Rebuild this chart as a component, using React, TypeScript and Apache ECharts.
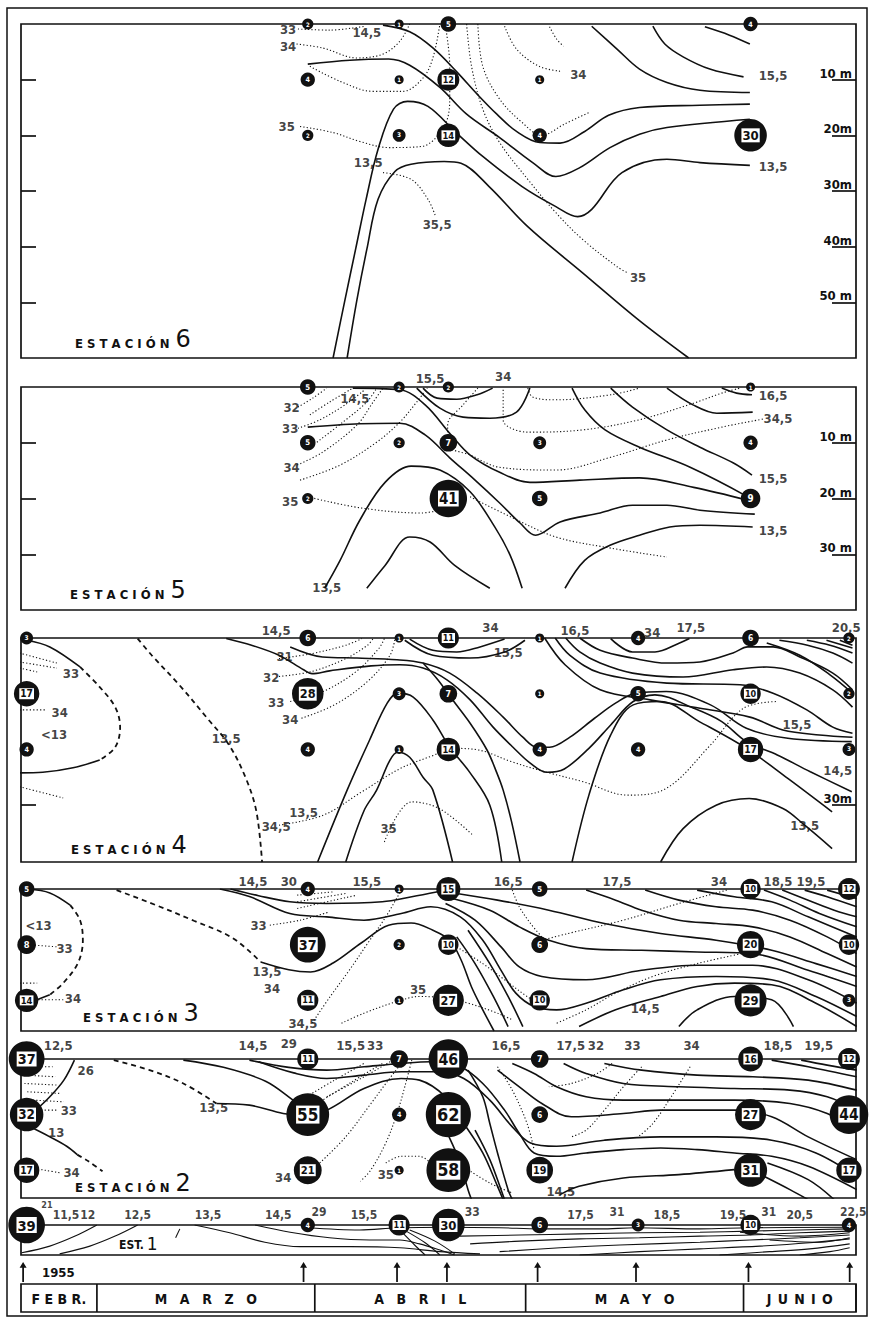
import React, { useEffect, useRef } from 'react';
import * as echarts from 'echarts';

const FONT = "'DejaVu Sans Condensed','Liberation Sans Narrow','DejaVu Sans',sans-serif";
const INK = '#111111';

// ---------- time axis: days counted from 1 March 1955 ----------
const dayMin = -10.8;
const dayMax = 108;
const sampleDays = [-10, 30, 43, 50, 63, 77, 93, 107];
const arrowDays = [-10.5, 29.4, 42.7, 49.8, 62.7, 76.7, 92.7, 107.1];
const sampleDepths = [0, 10, 20];
const monthNames = ['F E B R.', 'M\u2003A\u2003R\u2003Z\u2003O', 'A\u2003B\u2003R\u2003I\u2003L', 'M\u2003A\u2003Y\u2003O', 'J\u2002U\u2002N\u2002I\u2002O'];
const monthStart = [-10.8, 0, 31, 61, 92];
const monthEnd = [0, 31, 61, 92, 108];
const yearLabel = '1955';

// ---------- counts in circles (rows: 0, 10, 20 m; columns: sampleDays) ----------
const st6Counts = [
  [null, 2, 1, 5, null, null, 4, null],
  [null, 4, 1, 12, 1, null, null, null],
  [null, 2, 3, 14, 4, null, 30, null],
];
const st5Counts = [
  [null, 5, 2, 2, null, null, 1, null],
  [null, 5, 2, 7, 3, null, 4, null],
  [null, 2, null, 41, 5, null, 9, null],
];
const st4Counts = [
  [3, 6, 1, 11, 1, 4, 6, 2],
  [17, 28, 3, 7, 1, 5, 10, 2],
  [4, 4, 1, 14, 4, 4, 17, 3],
];
const st3Counts = [
  [5, 4, 1, 15, 5, null, 10, 12],
  [8, 37, 2, 10, 6, null, 20, 10],
  [14, 11, 1, 27, 10, null, 29, 3],
];
const st2Counts = [
  [37, 11, 7, 46, 7, null, 16, 12],
  [32, 55, 4, 62, 6, null, 27, 44],
  [17, 21, 1, 58, 19, null, 31, 17],
];
const st1Counts = [[39, 4, 11, 30, 6, 3, 10, 4]];

// ---------- Estación 6 isolines [day, depth m] ----------
const st6Temp = [
  [[86.5, 0.5], [90, 2], [92.9, 3.6]],
  [[79.1, 0.4], [80.8, 3.6], [83.4, 5.9], [87.2, 8.1], [92.0, 9.5]],
  [[70.4, 0.4], [74.0, 4.5], [77.2, 8.1], [81.1, 10.5], [85.8, 11.9], [92.9, 12.3]],
  [[40.7, 0.2], [44.5, 1.4], [47.8, 4.3], [51.2, 8.6], [54.1, 12.6], [56.9, 16.2], [59.7, 19.3], [63.0, 21.3], [65.9, 21.4], [69.4, 19.3], [72.8, 16.4], [77.2, 15.0], [85.8, 14.6], [92.9, 14.4]],
  [[30.0, 7.2], [36.0, 6.5], [41.5, 6.3], [44.5, 7.4], [48.8, 11.4], [52.6, 16.2], [57.3, 20.4], [62.0, 24.9], [65.3, 27.4], [68.7, 25.8], [73.0, 22.2], [77.2, 19.8], [81.1, 18.6], [92.9, 17.1]],
  [[33.6, 60], [35.3, 49.5], [36.8, 40.5], [38.3, 31.5], [40.0, 22.5], [42.2, 15.3], [44.2, 13.9], [47.1, 14.8], [51.1, 19.5], [54.9, 23.8], [60.5, 29.2], [65.3, 32.8], [68.4, 34.6], [70.4, 33.3], [74.7, 26.7], [81.1, 24.3], [85.8, 24.9], [92.9, 25.4]],
  [[35.6, 60], [37.0, 49.5], [38.4, 40.5], [40.0, 31.5], [42.4, 26.5], [44.7, 25.2], [49.4, 24.7], [51.8, 25.0], [55.8, 29.2], [61.3, 36.4], [69.1, 44.7], [77.1, 53.2], [84.2, 60]],
];
const st6Sal = [
  [[28.6, 0.9], [33.1, 1.1], [38.1, 0.4]],
  [[28.4, 3.6], [32.1, 4.3], [37.0, 6.1], [40.7, 5.4], [43.1, 3.1], [44.5, 0]],
  [[30.3, 7.6], [34.6, 10.3], [39.3, 12.1], [43.5, 12.1], [46.4, 9.7], [47.8, 6.1], [48.8, 0]],
  [[28.9, 18.4], [33.6, 19.5], [37.4, 21.1], [41.5, 22.2], [46.2, 22.0], [49.4, 18.4], [50.2, 13.5], [50.2, 7.6], [49.6, 0.4]],
  [[52.6, 0], [53.3, 7.6], [54.9, 15.3], [57.3, 21.3], [61.3, 27.9], [65.3, 33.9], [69.1, 38.7], [74.0, 43.6], [75.5, 44.7]],
  [[54.2, 0], [54.9, 7.6], [57.3, 13.5], [60.5, 17.7], [63.3, 20.0], [66.5, 18.0], [70.0, 15.9]],
  [[58.0, 0.4], [59.7, 4.5], [62.9, 7.6], [66.0, 8.5]],
  [[64.4, 0.5], [65.4, 2.7], [66.4, 4.0]],
  [[40.7, 26.7], [44.7, 27.9], [47.1, 31.5], [48.2, 34.6]],
];
const st6Dash = [];
const st6Labels = [
  ['33', 27.2, 0.9], ['14,5', 38.4, 1.6], ['34', 27.2, 4.1], ['34', 68.5, 9.0], ['15,5', 96.2, 9.3],
  ['35', 27.0, 18.4], ['13,5', 38.6, 24.9], ['13,5', 96.2, 25.6], ['35,5', 48.4, 36.0], ['35', 77.0, 45.6],
];

// ---------- Estación 5 ----------
const st5Temp = [
  [[88.9, 0.2], [91.0, 1.1], [93.2, 1.4]],
  [[81.1, 0.2], [84.8, 3.2], [88.2, 4.7], [93.3, 4.5]],
  [[73.1, 0.2], [76.2, 3.6], [81.1, 7.7], [85.8, 10.8], [90.5, 13.6], [93.2, 15.8]],
  [[67.6, 0.2], [69.4, 4.1], [72.3, 7.7], [77.2, 10.8], [84.4, 14.4], [92.6, 19.7]],
  [[46.4, 0.2], [48.4, 2.0], [51.2, 2.2], [54.1, 1.4], [56.3, 0.2]],
  [[45.5, 0.2], [48.8, 3.8], [52.1, 5.4], [55.9, 5.6], [59.7, 4.5], [61.6, 0.2]],
  [[36.4, 0.2], [43.1, 0.5], [46.7, 3.2], [50.4, 8.6], [53.1, 12.2], [57.3, 15.3], [61.6, 17.1], [68.7, 16.7], [77.2, 16.3], [84.9, 18.0], [92.6, 20.3]],
  [[30.0, 7.2], [37.4, 6.6], [43.1, 6.5], [46.7, 8.6], [50.2, 12.7], [53.8, 16.7], [57.3, 20.8], [60.2, 24.4], [62.4, 26.6], [65.9, 24.2], [71.6, 22.6], [76.2, 21.2], [81.1, 21.2], [85.8, 22.1], [93.6, 22.8]],
  [[32.4, 36.1], [34.6, 31.1], [37.4, 23.9], [41.0, 17.1], [44.7, 14.2], [48.8, 14.9], [53.1, 18.8], [56.6, 25.1], [58.8, 30.2], [60.5, 36.1]],
  [[38.4, 36.1], [41.0, 32.0], [44.5, 26.9], [47.4, 27.8], [50.9, 32.0], [55.9, 36.1]],
  [[66.6, 36.1], [69.4, 31.1], [73.0, 28.4], [77.2, 26.6], [81.5, 25.1], [85.8, 24.8], [93.3, 25.1]],
];
const st5Sal = [
  [[28.6, 3.6], [30.7, 2.0], [32.7, 0.2]],
  [[30.3, 5.0], [33.1, 2.7], [36.4, 0.2]],
  [[28.6, 7.4], [31.7, 5.9], [35.3, 3.2], [38.1, 0.5]],
  [[31.3, 9.9], [35.0, 6.3], [38.4, 2.7], [39.8, 0.2]],
  [[28.5, 14.0], [32.1, 11.7], [37.0, 6.8], [39.3, 2.7], [40.7, 0.2]],
  [[28.9, 16.7], [34.6, 14.0], [39.8, 9.9], [43.1, 6.3], [45.5, 2.7], [47.0, 0.2]],
  [[30.0, 19.7], [37.6, 21.7], [46.2, 22.6], [48.8, 22.1]],
  [[53.1, 19.7], [58.9, 23.3], [65.3, 26.9], [73.1, 28.9], [81.1, 30.5]],
  [[54.2, 0.2], [52.1, 3.2], [49.9, 6.8], [49.9, 10.4], [53.1, 12.2], [57.3, 14.4], [65.3, 14.9], [73.1, 12.6], [81.1, 9.5], [88.9, 7.2], [95.0, 5.7]],
  [[57.8, 0.5], [57.8, 5.9], [61.3, 8.1], [69.1, 7.7], [77.1, 5.9], [84.9, 2.9], [88.9, 1.1], [91.5, 0.2]],
  [[61.3, 0.2], [62.0, 1.8], [65.3, 2.3], [73.1, 1.4], [77.2, 0.2]],
];
const st5Dash = [];
const st5Labels = [
  ['15,5', 47.4, -1.6], ['34', 57.8, -1.8], ['14,5', 36.7, 2.0], ['32', 27.7, 3.6], ['33', 27.5, 7.5],
  ['34', 27.7, 14.5], ['35', 27.5, 20.5], ['16,5', 96.2, 1.6], ['34,5', 96.9, 5.6], ['15,5', 96.2, 16.4],
  ['13,5', 96.2, 25.8], ['13,5', 32.7, 36.0],
];

// ---------- Estación 4 ----------
const st4Temp = [
  [[-10.0, 0.4], [-6.7, 1.6], [-2.4, 5.2]],
  [[0.4, 21.9], [-3.4, 23.3], [-7.7, 24.1], [-11, 24.2]],
  [[18.4, 0.1], [22.0, 1.3], [25.9, 3.1], [29.4, 5.7], [30.6, 6.4], [33.1, 5.9], [39.0, 5.0], [43.1, 4.8], [46.4, 5.4], [49.8, 7.5], [53.1, 11.1], [56.3, 15.9], [59.2, 19.6], [61.6, 22.4], [64.0, 24.1], [66.5, 23.5], [70.0, 19.8], [73.1, 15.6], [76.3, 11.4], [79.4, 10.2], [84.9, 12.6], [88.9, 15.0], [92.4, 18.6], [96.8, 21.0], [101.5, 24.0], [107.4, 27.6]],
  [[27.5, 1.6], [32.1, 3.4], [37.0, 3.6], [42.7, 3.9], [46.4, 4.5], [50.2, 6.3], [54.1, 9.9], [57.8, 14.2], [60.6, 17.8], [62.6, 19.6], [64.4, 19.6], [67.3, 17.8], [70.8, 14.4], [73.9, 11.6], [76.7, 9.9], [81.0, 9.6], [87.3, 12.0], [92.4, 16.2], [98.3, 18.0], [107.4, 18.6]],
  [[31.4, 40.2], [35.6, 27.3], [38.8, 18.3], [41.3, 11.7], [42.8, 9.9], [45.0, 10.6], [47.8, 14.7], [50.2, 19.6], [53.1, 24.2], [55.9, 30.0], [57.6, 40.2]],
  [[35.4, 40.2], [38.0, 31.0], [39.8, 27.3], [41.7, 21.9], [42.8, 20.5], [44.5, 21.4], [46.4, 25.0], [47.8, 27.3], [50.6, 40.2]],
  [[46.4, 4.5], [48.5, 7.5], [50.6, 11.1], [53.1, 15.3], [55.5, 20.1], [56.9, 24.2], [57.8, 27.3], [59.0, 33.0], [60.2, 40.2]],
  [[44.5, 0.2], [47.8, 2.2], [51.2, 2.5], [54.5, 1.6], [58.0, 0.2]],
  [[43.8, 0.4], [47.8, 3.1], [53.1, 3.6], [58.0, 2.5], [60.9, 0.4]],
  [[68.7, 0], [71.6, 2.2], [76.2, 3.6], [81.1, 4.5], [85.8, 4.3], [90.5, 2.7], [92.6, 1.6], [96.2, 1.6], [100.0, 3.4], [104.7, 6.3], [107.5, 9.3]],
  [[66.7, 0], [68.7, 2.5], [71.6, 4.5], [76.2, 6.3], [83.4, 7.0], [90.5, 5.7], [95.3, 5.2], [100.0, 6.3], [104.7, 9.3], [107.5, 12.4]],
  [[65.2, 0], [67.3, 3.1], [71.6, 6.3], [81.1, 8.1], [91.5, 8.4], [96.2, 9.9], [101.0, 12.9], [104.7, 16.0], [107.5, 17.1]],
  [[63.7, 0], [66.6, 4.8], [71.6, 9.3], [78.7, 11.1], [85.8, 12.6], [92.9, 14.2], [97.6, 16.5], [102.8, 17.4], [107.5, 17.8]],
  [[73.1, 0.1], [76.2, 2.5], [79.4, 2.5], [82.9, 0.9], [84.3, 0.1]],
  [[97.1, 0.4], [101.1, 1.3], [104.7, 2.7], [107.5, 4.5]],
  [[101.0, 0.4], [104.3, 1.3], [107.5, 2.7]],
  [[103.8, 0.4], [107.5, 1.8]],
  [[105.7, 0.4], [107.5, 1.3]],
  [[95.3, 0.9], [100.0, 3.1], [104.3, 6.6], [107.5, 9.9]],
  [[80.2, 40.2], [83.4, 34.2], [88.1, 30.0], [92.8, 28.8], [97.6, 30.6], [100.7, 33.6], [104.6, 37.8]],
  [[67.6, 40.2], [70.0, 28.2], [73.1, 17.4], [76.3, 12.0], [80.2, 11.4], [85.7, 15.0], [92.4, 19.8], [98.3, 25.2], [104.6, 31.2]],
];
const st4Dash = [
  [[-2.4, 5.2], [0.4, 8.8], [2.6, 12.4], [3.3, 16.0], [2.6, 19.6], [0.4, 21.9]],
  [[5.8, 0.1], [7.8, 3.1], [11.7, 8.4], [15.7, 14.4], [18.8, 19.2], [21.2, 25.2], [22.7, 31.2], [23.5, 40.2]],
];
const st4Sal = [
  [[-11, 2.7], [-5.7, 4.5]], [[-11, 4.3], [-5.7, 5.4]], [[-11, 5.4], [-8.5, 6.1]],
  [[-11, 12.9], [-7.1, 12.9]], [[-11, 26.7], [-4.8, 28.7]],
  [[25.9, 3.7], [30.6, 2.8], [35.4, 1.3], [37.7, 0.1]],
  [[25.9, 6.9], [30.6, 6.0], [35.4, 3.7], [38.5, 1.3], [39.3, 0.1]],
  [[27.5, 11.4], [32.2, 9.6], [36.9, 6.0], [40.1, 1.9], [40.9, 0.1]],
  [[29.1, 14.4], [33.8, 12.0], [38.5, 7.8], [41.7, 3.1], [42.4, 0.1]],
  [[25.9, 33.6], [32.2, 31.8], [37.7, 27.6], [43.2, 23.4], [48.0, 21.0], [50.4, 19.8], [54.3, 20.1], [59.0, 22.2], [63.7, 24.0], [69.2, 25.8], [75.5, 28.2], [81.0, 27.0], [87.3, 19.2], [92.0, 12.6], [96.8, 11.4]],
  [[40.9, 36.6], [44.8, 29.4], [48.7, 30.6], [53.5, 35.4]],
];
const st4Labels = [
  ['14,5', 25.5, -1.4], ['31', 26.7, 3.4], ['32', 24.8, 7.0], ['33', 25.5, 11.5], ['34', 27.5, 14.7],
  ['34', 56.0, -1.8], ['15,5', 58.5, 2.6], ['16,5', 68.0, -1.4], ['34', 79.0, -0.9], ['17,5', 84.5, -1.8],
  ['20,5', 106.6, -1.8], ['15,5', 99.6, 15.6], ['14,5', 105.4, 23.7], ['13,5', 100.7, 33.6],
  ['13,5', 29.4, 31.4], ['34,5', 25.5, 33.9], ['35', 41.5, 34.1], ['13,5', 18.4, 18.0],
  ['<13', -6.1, 17.4], ['33', -3.7, 6.3], ['34', -5.3, 13.3],
];

// ---------- Estación 3 ----------
const st3Temp = [
  [[-9.8, 0], [-6.7, 0.7], [-3.8, 2.9]],
  [[-6.7, 19.0], [-9.8, 20.5]],
  [[23.3, 13.1], [27.3, 14.5], [30.4, 14.9], [33.6, 13.3], [37.6, 9.7], [41.5, 6.5], [44.7, 6.1], [47.8, 7.4], [50.2, 9.2], [51.8, 12.7], [53.3, 17.6], [54.9, 21.7], [56.5, 25.5]],
  [[19, 0], [23, 1.2], [27.45, 2.3], [32.7, 2.6], [40.6, 2.3], [44.8, 1.4], [48.5, 0.5]],
  [[17.5, 0], [21.8, 1.4], [27.45, 4.4], [32.7, 5.0], [38.0, 5.6], [43.3, 4.4], [47.5, 3.2], [51.7, 5.0], [54.9, 9.2], [57.5, 14.6], [59.6, 18.7], [62.2, 21.1], [65.4, 21.7], [69.6, 20.5], [74.9, 18.1], [80.2, 16.3], [88.1, 15.7], [96.0, 16.3], [102.3, 19.3], [108.1, 22.9]],
  [[51.2, 0.8], [57.0, 2.0], [64.3, 3.8], [72.2, 6.2], [80.2, 8.0], [88.1, 9.2], [96.0, 11.0], [102.3, 13.4], [108.1, 15.7]],
  [[50.6, 1.7], [55.9, 3.8], [60.1, 6.8], [64.3, 9.2], [69.6, 10.7], [77.5, 11.0], [85.4, 11.3], [93.3, 11.6], [101.2, 14.6], [108.1, 17.5]],
  [[49.6, 2.6], [53.8, 5.6], [57.5, 10.4], [60.1, 14.0], [63.3, 15.7], [69.6, 16.3], [77.5, 14.6], [85.4, 13.7], [93.3, 13.7], [101.2, 16.3], [108.1, 20.5]],
  [[51.2, 8.6], [53.8, 13.4], [56.4, 19.3], [58.5, 24.7]],
  [[52.8, 7.4], [55.9, 13.4], [58.5, 19.3], [60.6, 24.7]],
  [[68.6, 24.7], [73.8, 21.7], [80.2, 19.3], [85.4, 17.5], [90.7, 16.9], [96.0, 17.2], [102.3, 20.5], [108.1, 24.7]],
  [[82.8, 24.7], [85.4, 21.7], [90.7, 19.3], [96.0, 19.9], [99.1, 24.7]],
  [[69.6, 0.2], [73.8, 2.0], [77.5, 3.8], [82.8, 5.6], [88.1, 6.2], [93.3, 6.8], [98.6, 8.6], [103.9, 11.6], [108.1, 14.0]],
  [[78.0, 0.2], [82.8, 2.0], [88.1, 3.2], [93.3, 3.8], [98.6, 5.6], [103.9, 8.6], [108.1, 11.6]],
  [[85.4, 0.2], [90.7, 1.4], [96.0, 2.3], [101.2, 5.0], [108.1, 8.6]],
  [[94.9, 0.2], [98.6, 2.0], [102.8, 4.4], [108.1, 6.8]],
  [[97.5, 0.2], [101.2, 2.0], [104.9, 3.8], [108.1, 5.0]],
  [[100.7, 0.2], [103.9, 1.4], [108.1, 3.2]],
  [[103.9, 0.2], [108.1, 1.7]],
];
const st3Dash = [
  [[-3.8, 2.9], [-2.4, 5.6], [-2.0, 9.2], [-2.7, 13.3], [-4.8, 16.9], [-6.7, 19.0]],
  [[2.8, 0.2], [8.4, 2.9], [13.8, 5.7], [19.3, 8.8], [23.3, 13.1]],
];
const st3Sal = [
  [[89.6, 0.2], [82.8, 2.6], [74.9, 5.6], [67.0, 8.0], [63.3, 9.2]],
  [[59.1, 0.2], [60.1, 3.2], [61.7, 6.2], [63.3, 8.6]],
  [[34.8, 24.1], [38.0, 22.3], [42.7, 20.2], [45.9, 19.3], [49.6, 19.6], [52.8, 20.5], [57.0, 22.3], [59.1, 23.5]],
  [[30.6, 24.1], [33.2, 19.3], [35.9, 14.6], [38.5, 9.8], [41.1, 5.0], [43.3, 0.2]],
  [[91.7, 11.6], [85.4, 13.4], [79.1, 15.7], [73.8, 18.7], [69.6, 21.7], [65.4, 24.1]],
  [[51.2, 10.4], [54.9, 13.4], [58.0, 16.3], [61.2, 19.3], [62.8, 20.5]],
  [[28.5, 1.1], [33.8, 0.5]], [[28.5, 2.3], [35.4, 0.8]], [[28.5, 3.5], [37.0, 1.1]],
  [[24.6, 6.5], [28.9, 5.6], [33.1, 4.1]],
  [[-9.8, 10.0], [-5.5, 10.4]], [[-9.8, 19.9], [-4.6, 19.9]], [[-11, 16.9], [-8.5, 16.9]],
];
const st3Labels = [
  ['14,5', 22.2, -1.3], ['30', 27.3, -1.3], ['15,5', 38.4, -1.3], ['16,5', 58.5, -1.3], ['17,5', 74.0, -1.3],
  ['34', 88.5, -1.3], ['18,5', 96.9, -1.3], ['19,5', 101.6, -1.3], ['<13', -8.3, 6.5], ['33', -4.6, 10.6],
  ['34', -3.4, 19.6], ['33', 23.0, 6.5], ['13,5', 24.2, 14.9], ['34', 24.9, 17.8], ['34,5', 29.3, 24.1],
  ['35', 45.7, 18.1], ['14,5', 78.0, 21.4],
];

// ---------- Estación 2 ----------
const st2Temp = [
  [[-3.2, 0.2], [-4.7, 3.8], [-6.7, 6.8], [-8.7, 9.2]],
  [[-9.5, 12.2], [-6.7, 14.0], [-4.3, 15.7], [-2.8, 17.2]],
  [[17.0, 8.0], [21.7, 8.3], [26.5, 9.8], [29.2, 10.1], [32.7, 9.2], [38.0, 5.3], [43.3, 3.5], [45.9, 3.8], [49.6, 6.8], [52.2, 11.6], [54.9, 16.9], [57.0, 22.9], [57.8, 25.3]],
  [[12.3, 0.2], [18, 1.5], [24, 4], [28, 7.5], [29.5, 9]],
  [[21.7, 0.2], [27.3, 1.5], [32.7, 2.0], [38.0, 1.4], [43.3, 0.8], [47.5, 0.5], [51.7, 1.4], [54.9, 4.4], [58.0, 9.2], [60.1, 13.4], [62.2, 16.9], [65.4, 17.5], [69.6, 16.9], [74.9, 16.3], [80.2, 16.0], [85.4, 16.3], [90.7, 16.9], [96.0, 17.5], [101.2, 19.3], [108.1, 23.5]],
  [[23, 0.5], [28, 2.5], [32.7, 3.5], [38.0, 2.9], [43.3, 2.3], [48.5, 2.3], [52.2, 3.5], [55.9, 7.4], [59.1, 12.2], [61.7, 15.1], [65.4, 15.7], [72.2, 14.6], [80.2, 14.0], [88.1, 14.0], [96.0, 14.6], [102.3, 16.9], [108.1, 21.1]],
  [[57.0, 2.0], [60.1, 5.0], [63.3, 8.0], [67.5, 10.4], [74.9, 9.8], [80.2, 9.2], [90.7, 9.2], [96.0, 10.4], [101.2, 14.0], [108.1, 18.1]],
  [[59.1, 0.8], [62.2, 2.6], [65.4, 5.0], [69.6, 6.8], [74.9, 7.4], [82.8, 7.4], [90.7, 7.4], [98.6, 8.0], [103.9, 9.8], [108.1, 12.8]],
  [[66.4, 0.8], [69.6, 2.6], [74.9, 4.4], [82.8, 5.0], [90.7, 5.3], [98.6, 5.6], [103.9, 6.8], [108.1, 9.2]],
  [[72.2, 0.8], [77.5, 2.0], [85.4, 2.9], [93.3, 3.2], [101.2, 3.8], [108.1, 5.6]],
  [[96.0, 0.2], [101.2, 1.4], [108.1, 3.2]],
  [[100.2, 0.2], [103.9, 1.1], [108.1, 2.0]],
  [[52.8, 2.0], [54.9, 6.8], [55.9, 11.6], [57.0, 16.9], [58.5, 23.5], [59.1, 25.3]],
  [[50.1, 14.0], [51.7, 18.7], [52.8, 23.5], [53.3, 25.3]],
  [[53.8, 12.8], [55.9, 18.1], [57.5, 23.5], [58.0, 25.3]],
  [[65.9, 24.4], [68.6, 22.9], [74.9, 21.4], [82.8, 20.8], [90.7, 19.9]],
  [[94.9, 21.1], [98.6, 23.5], [101.2, 25.3]],
  [[95.4, 18.7], [101.2, 21.7], [104.9, 25.3]],
];
const st2Dash = [
  [[-2.8, 17.2], [-1.2, 18.4], [0.8, 20.2]],
  [[2.4, 0.2], [7.5, 2.0], [12.3, 4.4], [17.0, 8.0]],
];
const st2Sal = [
  [[-10.3, 1.4], [-6.3, 1.4]], [[-10.3, 2.9], [-5.9, 3.2]], [[-10.3, 4.4], [-5.5, 4.7]],
  [[-9.9, 5.9], [-5.1, 6.2]], [[-9.1, 7.4], [-4.7, 7.7]],
  [[-7.9, 9.2], [-5.5, 9.2]], [[-7.9, 19.9], [-5.1, 20.5]],
  [[44.8, 0.2], [43.8, 5.0], [42.7, 9.8], [41.1, 15.1], [39.0, 19.9], [37.5, 22.0]],
  [[29.0, 7.4], [33.8, 3.8], [38.0, 0.8]],
  [[30.6, 8.6], [35.9, 4.4], [40.6, 0.8]],
  [[32.7, 6.8], [38.0, 3.2], [41.7, 0.5]],
  [[57.0, 1.4], [59.1, 5.6], [61.2, 11.6], [62.2, 16.3]],
  [[77.5, 1.4], [74.9, 5.0], [72.2, 9.2], [69.6, 12.8], [67.5, 14.0]],
  [[84.4, 1.4], [81.7, 6.8], [79.1, 11.6], [77.0, 14.0]],
  [[73.3, 0.8], [71.2, 2.6], [67.5, 4.4], [64.3, 5.0]],
  [[41.1, 18.7], [43.3, 17.5], [45.9, 17.5], [47.5, 18.7]],
  [[52.8, 19.9], [55.9, 22.3], [59.1, 24.1]],
  [[31.7, 18.7], [35.4, 14.0], [39.0, 8.0], [41.1, 4.4], [43.3, 0.8]],
];
const st2Labels = [
  ['12,5', -5.5, -2.5], ['26', -1.6, 2.0], ['33', -4.0, 9.2], ['13', -5.8, 13.3], ['34', -3.6, 20.5],
  ['13,5', 16.6, 8.8], ['14,5', 22.2, -2.5], ['29', 27.3, -2.7], ['15,5', 36.1, -2.5], ['33', 39.6, -2.5],
  ['16,5', 58.2, -2.5], ['17,5', 67.4, -2.5], ['32', 71.0, -2.5], ['33', 76.2, -2.5], ['34', 84.6, -2.5],
  ['18,5', 96.9, -2.5], ['19,5', 102.7, -2.5], ['34', 26.5, 21.4], ['35', 41.1, 20.8], ['14,5', 66.0, 23.9],
];

// ---------- Estación 1 ----------
const st1Temp = [
  [[-10.7, 5.0], [-6.7, 3.8], [-3.1, 2.0], [0, 0]],
  [[-5.3, 5.2], [-1.0, 3.8], [2.6, 2.0], [5.8, 0]],
  [[13.9, 0], [18.9, 1.4], [23.9, 3.1], [28.9, 3.9], [36.0, 3.9], [43.1, 4.1], [48.8, 4.8], [54.5, 5.2]],
  [[22.5, 0], [27.5, 1.3], [33.1, 2.3], [38.8, 2.7], [43.1, 2.7], [45.9, 3.4], [48.8, 4.5], [50.9, 5.4]],
  [[30.0, 0.5], [37.4, 0.9], [42.7, 0.5], [50.2, 0.4], [57.3, 0.5], [63.0, 0.7], [71.6, 0.7], [76.7, 0.5], [85.8, 0.7], [92.9, 0.5], [107.1, 0.4]],
  [[43.4, 1.3], [45.2, 3.6], [46.7, 5.4]],
  [[44.0, 1.1], [46.7, 3.2], [48.8, 5.4]],
  [[44.5, 0.9], [48.1, 2.9], [50.9, 5.2]],
  [[51.6, 2.0], [60.2, 1.8], [68.7, 1.6], [77.2, 1.4], [85.8, 1.3], [92.9, 1.1], [100.0, 0.9], [107.1, 0.7]],
  [[53.1, 3.4], [60.2, 2.9], [68.7, 2.5], [77.2, 2.3], [85.8, 2.0], [92.9, 1.8], [100.0, 1.4], [107.1, 1.1]],
  [[57.3, 4.8], [65.9, 4.1], [74.4, 3.6], [85.8, 3.1], [92.9, 2.7], [100.0, 2.3], [107.1, 1.8]],
  [[68.7, 5.4], [77.2, 4.8], [85.8, 4.3], [94.3, 3.8], [101.4, 3.2], [107.1, 2.5]],
  [[88.6, 5.4], [95.7, 4.8], [101.4, 4.3], [107.1, 3.4]],
  [[100.0, 5.4], [104.3, 4.8], [107.1, 4.1]],
  [[91.5, 1.3], [100.0, 2.0], [107.1, 1.4]],
  [[95.7, 2.7], [102.8, 3.1], [107.1, 2.3]],
  [[11.2, 2.3], [11.8, 0.7]],
];
const st1Sal = [];
const st1Dash = [];
const st1Labels = [
  ['11,5', -4.4, -1.8], ['12', -1.3, -1.8], ['12,5', 5.8, -1.8], ['13,5', 15.8, -1.8], ['14,5', 25.8, -1.8],
  ['29', 31.6, -2.3], ['15,5', 38.0, -1.8], ['33', 53.4, -2.3], ['17,5', 68.8, -1.8], ['31', 74.0, -2.3],
  ['18,5', 81.1, -1.8], ['19,5', 90.5, -1.8], ['31', 95.6, -2.3], ['20,5', 100.0, -1.8], ['22,5', 107.6, -2.4],
];
const st1Small = [['21', -7.1, -3.6]];

// ---------- depth scale labels at the right edge ----------
const st6DepthText = { 10: '10 m', 20: '20m', 30: '30m', 40: '40m', 50: '50 m' };
const st5DepthText = { 10: '10 m', 20: '20 m', 30: '30 m' };
const st4DepthText = { 30: '30m' };

// ---------- panel geometry (pixels) ----------
const PLOT_LEFT = 21;
const PLOT_WIDTH = 835;
const panelTops = [24, 387, 638, 889, 1059, 1225];
const panelHeights = [334, 223, 224, 142, 139, 30];
const panelMaxDepth = [60, 40, 40.2, 25.5, 25, 5.4];
const leftTicks = [[10, 20, 30, 40, 50], [10, 20, 30], [30], [], [], []];
const rightDepthLabels = [[10, 20, 30, 40, 50], [10, 20, 30], [30], [], [], []];
const depthTexts: any[] = [st6DepthText, st5DepthText, st4DepthText, {}, {}, {}];
const stationNumbers = ['6', '5', '4', '3', '2'];
const stationTextPos = [[75, 351], [70, 602], [71, 857], [83, 1025], [75, 1195]];

const panels = [
  { counts: st6Counts, temp: st6Temp, sal: st6Sal, dash: st6Dash, labels: st6Labels },
  { counts: st5Counts, temp: st5Temp, sal: st5Sal, dash: st5Dash, labels: st5Labels },
  { counts: st4Counts, temp: st4Temp, sal: st4Sal, dash: st4Dash, labels: st4Labels },
  { counts: st3Counts, temp: st3Temp, sal: st3Sal, dash: st3Dash, labels: st3Labels },
  { counts: st2Counts, temp: st2Temp, sal: st2Sal, dash: st2Dash, labels: st2Labels },
  { counts: st1Counts, temp: st1Temp, sal: st1Sal, dash: st1Dash, labels: st1Labels },
];

const circleSize = (v: number) => 3.8 + 5.25 * Math.sqrt(v);

function buildOption() {
  const grid: any[] = [];
  const xAxis: any[] = [];
  const yAxis: any[] = [];
  const series: any[] = [];

  panels.forEach((p, i) => {
    grid.push({
      left: PLOT_LEFT, width: PLOT_WIDTH, top: panelTops[i], height: panelHeights[i],
      show: true, borderColor: INK, borderWidth: 1.7, backgroundColor: 'transparent',
      containLabel: false, outerBoundsMode: 'none',
    });
    xAxis.push({ type: 'value', gridIndex: i, min: dayMin, max: dayMax, show: false });
    yAxis.push({
      type: 'value', gridIndex: i, min: 0, max: panelMaxDepth[i], inverse: true, position: 'left',
      axisLine: { show: false, onZero: false }, splitLine: { show: false }, axisLabel: { show: false },
      axisTick: {
        show: leftTicks[i].length > 0, inside: true, length: 15, customValues: leftTicks[i],
        lineStyle: { color: INK, width: 1.7 },
      },
    });
    const dt = depthTexts[i];
    yAxis.push({
      type: 'value', gridIndex: i, min: 0, max: panelMaxDepth[i], inverse: true, position: 'right',
      show: rightDepthLabels[i].length > 0,
      axisLine: { show: false, onZero: false }, splitLine: { show: false },
      axisTick: {
        show: true, inside: true, length: 24, customValues: rightDepthLabels[i],
        lineStyle: { color: INK, width: 1.7 },
      },
      axisLabel: {
        show: true, inside: true, customValues: rightDepthLabels[i],
        formatter: (v: number) => dt[v] || `${v} m`, verticalAlign: 'bottom', margin: 4,
        color: INK, fontFamily: FONT, fontWeight: 'bold', fontSize: 13,
      },
    });

    const lw = i === 5 ? 1.1 : 1.6;
    p.temp.forEach((pts) => series.push({
      type: 'line', xAxisIndex: i, yAxisIndex: 2 * i, data: pts, smooth: 0.35, symbol: 'none',
      silent: true, z: 2, lineStyle: { color: INK, width: lw, opacity: 1 },
    }));
    p.dash.forEach((pts) => series.push({
      type: 'line', xAxisIndex: i, yAxisIndex: 2 * i, data: pts, smooth: 0.35, symbol: 'none',
      silent: true, z: 2, lineStyle: { color: INK, width: 1.8, type: [5, 4], opacity: 1 },
    }));
    p.sal.forEach((pts) => series.push({
      type: 'line', xAxisIndex: i, yAxisIndex: 2 * i, data: pts, smooth: 0.35, symbol: 'none',
      silent: true, z: 2, lineStyle: { color: INK, width: 1.1, type: [1.2, 2.2], opacity: 1 },
    }));

    const cdata: any[] = [];
    p.counts.forEach((row, r) => row.forEach((v, c) => {
      if (v == null) return;
      const d = circleSize(v);
      const big = v >= 10;
      cdata.push({
        value: [sampleDays[c], sampleDepths[r], v],
        symbolSize: d,
        label: {
          show: true, position: 'inside', formatter: String(v),
          fontFamily: FONT, fontWeight: 'bold',
          fontSize: big ? Math.max(9, Math.min(18, d * 0.4)) : Math.max(6, d * 0.5),
          color: big ? INK : '#fff',
          backgroundColor: big ? '#fff' : 'transparent',
          padding: big ? [1, 1, 0, 1] : 0,
        },
      });
    }));
    series.push({
      type: 'scatter', xAxisIndex: i, yAxisIndex: 2 * i, data: cdata, symbol: 'circle',
      itemStyle: { color: INK, opacity: 1 }, clip: false, z: 5, silent: true,
    });

    series.push({
      type: 'scatter', xAxisIndex: i, yAxisIndex: 2 * i, clip: false, z: 6, silent: true,
      data: p.labels.map(([t, x, y]) => ({ value: [x, y], name: t })),
      symbolSize: 1, itemStyle: { color: 'rgba(0,0,0,0)' },
      label: {
        show: true, position: 'inside', formatter: '{b}', fontFamily: FONT, fontWeight: 'bold',
        fontSize: i === 5 ? 12 : 13, color: INK,
      },
    });
  });

  series.push({
    type: 'scatter', xAxisIndex: 5, yAxisIndex: 10, clip: false, z: 6, silent: true,
    data: st1Small.map(([t, x, y]) => ({ value: [x, y], name: t })),
    symbolSize: 1, itemStyle: { color: 'rgba(0,0,0,0)' },
    label: { show: true, position: 'inside', formatter: '{b}', fontFamily: FONT, fontWeight: 'bold', fontSize: 9, color: INK },
  });

  // month band
  grid.push({
    left: PLOT_LEFT, width: PLOT_WIDTH, top: 1284, height: 28, show: true,
    borderColor: INK, borderWidth: 1.7, containLabel: false, outerBoundsMode: 'none',
  });
  xAxis.push({ type: 'value', gridIndex: 6, min: dayMin, max: dayMax, show: false });
  yAxis.push({ type: 'value', gridIndex: 6, min: 0, max: 1, show: false });
  series.push({
    type: 'custom', xAxisIndex: 6, yAxisIndex: 12, silent: true,
    data: monthStart.map((s, k) => [s, monthEnd[k], k]),
    encode: { x: [0, 1] },
    renderItem: (params: any, api: any) => {
      const a = api.coord([api.value(0), 1]);
      const b = api.coord([api.value(1), 0]);
      const name = monthNames[api.value(2)];
      return {
        type: 'group',
        children: [
          { type: 'line', shape: { x1: b[0], y1: a[1], x2: b[0], y2: b[1] }, style: { stroke: INK, lineWidth: 1.7 } },
          {
            type: 'text',
            style: {
              text: name, x: (a[0] + b[0]) / 2, y: (a[1] + b[1]) / 2 + 1, align: 'center', verticalAlign: 'middle',
              fontFamily: FONT, fontWeight: 'bold', fontSize: 14, fill: INK,
            },
          },
        ],
      };
    },
  });

  // sampling-date arrows
  grid.push({ left: PLOT_LEFT, width: PLOT_WIDTH, top: 1262, height: 20, show: false, containLabel: false, outerBoundsMode: 'none' });
  xAxis.push({ type: 'value', gridIndex: 7, min: dayMin, max: dayMax, show: false });
  yAxis.push({ type: 'value', gridIndex: 7, min: 0, max: 1, show: false });
  series.push({
    type: 'scatter', xAxisIndex: 7, yAxisIndex: 13, silent: true,
    data: arrowDays.map((d) => [d, 0.5]),
    symbol: 'path://M4,0 L8,8 L5,8 L5,28 L3,28 L3,8 L0,8 Z', symbolSize: [7, 20],
    itemStyle: { color: INK, opacity: 1 },
  });

  const graphic: any[] = [
    { type: 'rect', shape: { x: 7, y: 8, width: 860, height: 1308 }, style: { fill: 'none', stroke: INK, lineWidth: 1.5 }, silent: true },
    { type: 'text', x: 42, y: 1266, style: { text: yearLabel, fontFamily: FONT, fontWeight: 'bold', fontSize: 13, fill: INK }, silent: true },
  ];
  stationNumbers.forEach((n, k) => {
    const [x, y] = stationTextPos[k];
    graphic.push({
      type: 'text', x, y, silent: true,
      style: {
        text: `{a|E S T A C I Ó N}{b|${n}}`, verticalAlign: 'bottom',
        rich: {
          a: { fontFamily: FONT, fontWeight: 'bold', fontSize: 13, fill: INK, verticalAlign: 'bottom', padding: [0, 0, 1, 0] },
          b: { fontFamily: "'DejaVu Sans',sans-serif", fontSize: 24, fill: INK, verticalAlign: 'bottom', padding: [0, 0, 0, 6] },
        },
      },
    });
  });
  graphic.push({
    type: 'text', x: 119, y: 1252, silent: true,
    style: {
      text: '{a|EST.}{b|1}', verticalAlign: 'bottom',
      rich: {
        a: { fontFamily: FONT, fontWeight: 'bold', fontSize: 12, fill: INK, verticalAlign: 'bottom', padding: [0, 3, 1, 0] },
        b: { fontFamily: "'DejaVu Sans',sans-serif", fontSize: 17, fill: INK, verticalAlign: 'bottom' },
      },
    },
  });

  return { animation: false, backgroundColor: '#fff', grid, xAxis, yAxis, series, graphic };
}

export default function App() {
  const ref = useRef<HTMLDivElement>(null);
  useEffect(() => {
    if (!ref.current) return;
    const chart = echarts.init(ref.current, null, { renderer: 'svg', width: 871, height: 1321 });
    chart.setOption(buildOption());
    return () => chart.dispose();
  }, []);
  return (
    <div
      ref={ref}
      style={{ position: 'absolute', left: 0, top: 0, width: 871, height: 1321, background: '#fff' }}
    />
  );
}
